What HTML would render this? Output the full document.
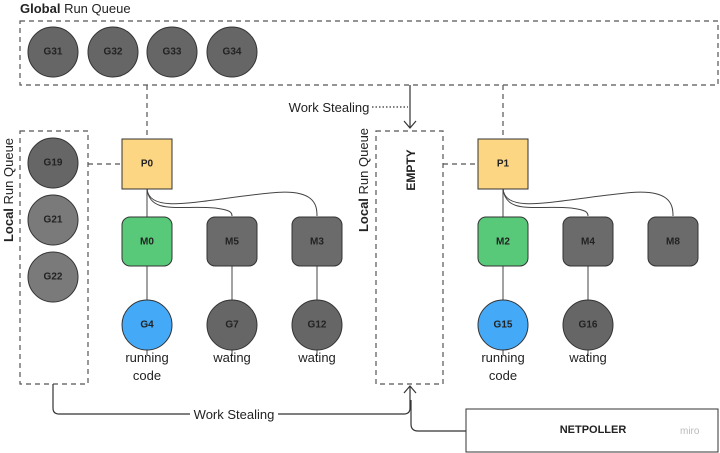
<!DOCTYPE html>
<html><head><meta charset="utf-8"><style>
html,body{margin:0;padding:0;background:#fff;}
svg{display:block;font-family:"Liberation Sans",sans-serif;}
.b{font-weight:bold;font-size:10px;fill:#222;text-anchor:middle;dominant-baseline:central;}
.l{font-size:13px;fill:#222;text-anchor:middle;}
</style></head><body>
<svg width="720" height="453" viewBox="0 0 720 453" xmlns="http://www.w3.org/2000/svg">
<g fill="none" stroke="#555" stroke-width="1.2" stroke-dasharray="5,4">
<rect x="20" y="21" width="698" height="64"/>
<rect x="20" y="131" width="68" height="253"/>
<rect x="376" y="131" width="67" height="253"/>
<line x1="147" y1="85" x2="147" y2="139"/>
<line x1="503" y1="85" x2="503" y2="139"/>
<line x1="88" y1="164" x2="122" y2="164"/>
<line x1="443" y1="164" x2="478" y2="164"/>
</g>
<text x="20" y="13" font-size="13" fill="#222"><tspan font-weight="bold">Global</tspan> Run Queue</text>
<text transform="translate(13,190) rotate(-90)" font-size="13" fill="#222" text-anchor="middle"><tspan font-weight="bold">Local</tspan> Run Queue</text>
<text transform="translate(368,180) rotate(-90)" font-size="13" fill="#222" text-anchor="middle"><tspan font-weight="bold">Local</tspan> Run Queue</text>
<text transform="translate(411,170) rotate(-90)" class="b" style="font-size:12px">EMPTY</text>
<g stroke="#333" stroke-width="1">
<circle cx="53" cy="52" r="25" fill="#666"/><circle cx="113" cy="52" r="25" fill="#666"/>
<circle cx="172" cy="52" r="25" fill="#666"/><circle cx="232" cy="52" r="25" fill="#666"/>
<circle cx="53" cy="163" r="25" fill="#666"/><circle cx="53" cy="220" r="25" fill="#7a7a7a"/><circle cx="53" cy="277" r="25" fill="#7a7a7a"/>
</g>
<text class="b" x="53" y="52">G31</text><text class="b" x="113" y="52">G32</text><text class="b" x="172" y="52">G33</text><text class="b" x="232" y="52">G34</text>
<text class="b" x="53" y="163">G19</text><text class="b" x="53" y="220">G21</text><text class="b" x="53" y="277">G22</text>
<g stroke="#444" stroke-width="1" fill="none">
<line x1="147" y1="189" x2="147" y2="300"/><line x1="232" y1="266" x2="232" y2="300"/><line x1="317" y1="266" x2="317" y2="300"/>
<line x1="503" y1="189" x2="503" y2="300"/><line x1="588" y1="266" x2="588" y2="300"/>
<line x1="147" y1="350" x2="147" y2="355"/><line x1="232" y1="350" x2="232" y2="355"/><line x1="317" y1="350" x2="317" y2="355"/>
<line x1="503" y1="350" x2="503" y2="355"/><line x1="588" y1="350" x2="588" y2="355"/>
<path d="M147 189 C150 215,180 205,215 208 C230 210,232 212,232 216"/>
<path d="M147 189 C150 215,200 200,270 193 C315 188,317 205,317 216"/>
<path d="M503 189 C506 215,536 205,571 208 C586 210,588 212,588 216"/>
<path d="M503 189 C506 215,556 200,626 193 C671 188,673 205,673 216"/>
</g>
<g stroke="#333" stroke-width="1">
<rect x="122" y="139" width="50" height="50" fill="#fdd683"/>
<rect x="478" y="139" width="50" height="50" fill="#fdd683"/>
<rect x="122" y="217" width="50" height="49" rx="8" fill="#58c978"/>
<rect x="207" y="217" width="50" height="49" rx="8" fill="#6b6b6b"/>
<rect x="292" y="217" width="50" height="49" rx="8" fill="#6b6b6b"/>
<rect x="478" y="217" width="50" height="49" rx="8" fill="#58c978"/>
<rect x="563" y="217" width="50" height="49" rx="8" fill="#6b6b6b"/>
<rect x="648" y="217" width="50" height="49" rx="8" fill="#6b6b6b"/>
<ellipse cx="147" cy="325" rx="25" ry="25" fill="#44aaf8"/>
<ellipse cx="232" cy="325" rx="25" ry="25" fill="#666"/>
<ellipse cx="317" cy="325" rx="25" ry="25" fill="#666"/>
<ellipse cx="503" cy="325" rx="25" ry="25" fill="#44aaf8"/>
<ellipse cx="588" cy="325" rx="25" ry="25" fill="#666"/>
</g>
<text class="b" x="147" y="164">P0</text><text class="b" x="503" y="164">P1</text>
<text class="b" x="147" y="242">M0</text><text class="b" x="232" y="242">M5</text><text class="b" x="317" y="242">M3</text>
<text class="b" x="503" y="242">M2</text><text class="b" x="588" y="242">M4</text><text class="b" x="673" y="242">M8</text>
<text class="b" x="147" y="325">G4</text><text class="b" x="232" y="325">G7</text><text class="b" x="317" y="325">G12</text>
<text class="b" x="503" y="325">G15</text><text class="b" x="588" y="325">G16</text>
<text class="l" x="147" y="362">running</text><text class="l" x="147" y="380">code</text>
<text class="l" x="232" y="362">wating</text><text class="l" x="317" y="362">wating</text>
<text class="l" x="503" y="362">running</text><text class="l" x="503" y="380">code</text>
<text class="l" x="588" y="362">wating</text>
<g stroke="#333" stroke-width="1.2" fill="none">
<line x1="410" y1="85" x2="410" y2="128"/><path d="M404 121 L410 128 L416 121"/>
<line x1="372" y1="107" x2="408" y2="107" stroke-dasharray="1.5,2"/>
<path d="M53 384 V408 Q53 414 59 414 H190"/><path d="M278 414 H404 Q410 414 410 408 V386"/>
<path d="M404 393 L410 386 L416 393"/>
<path d="M466 431 H418 Q411 431 411 424 V400"/>
</g>
<text class="l" x="329" y="112">Work Stealing</text>
<text class="l" x="234" y="419">Work Stealing</text>
<rect x="466" y="409" width="252" height="43" fill="#fff" stroke="#333" stroke-width="1"/>
<text class="b" x="593" y="430" style="font-size:11px">NETPOLLER</text>
<text x="680" y="434" font-size="10" fill="#bbb">miro</text>
</svg>
</body></html>
